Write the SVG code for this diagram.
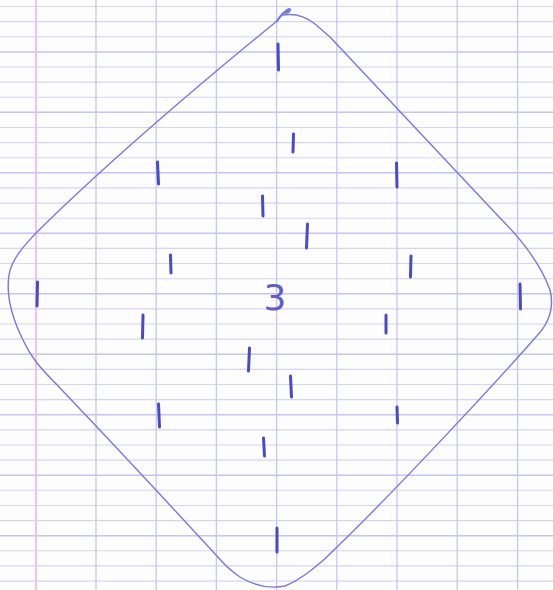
<svg xmlns="http://www.w3.org/2000/svg" width="553" height="590" viewBox="0 0 553 590">
  <style>
    .minor { stroke: #d6d4f3; stroke-width: 1.1; fill: none; }
    .major { stroke: #c6c4f1; stroke-width: 1.5; fill: none; }
    .vert { stroke: #c8c6f3; stroke-width: 1.3; fill: none; }
    .margin { stroke: #f5bce8; stroke-width: 1.8; fill: none; }
    .outline { stroke: #7a78dc; stroke-width: 1.4; fill: none; stroke-linejoin: round; stroke-linecap: round; }
    .tick { stroke: #4b4ac6; stroke-width: 3; stroke-linecap: round; fill: none; }
    .num { font-family: "DejaVu Sans", "Liberation Sans", sans-serif; font-size: 36px; fill: #5e5cd0; text-anchor: middle; }
  </style>
  <rect width="553" height="590" fill="#fdfdfe"/>
  <g id="paper">
    <path class="minor" d="M0 6.5H553M0 21.6H553M0 36.7H553M0 67H553M0 82.1H553M0 97.2H553M0 127.5H553M0 142.6H553M0 157.7H553M0 187.9H553M0 203.1H553M0 218.2H553M0 248.4H553M0 263.5H553M0 278.7H553M0 308.9H553M0 324H553M0 339.1H553M0 369.4H553M0 384.5H553M0 399.6H553M0 429.9H553M0 445H553M0 460.1H553M0 490.3H553M0 505.5H553M0 520.6H553M0 550.8H553M0 565.9H553M0 581.1H553"/>
    <path class="major" d="M0 51.9H553M0 112.3H553M0 172.8H553M0 233.3H553M0 293.8H553M0 354.3H553M0 414.7H553M0 475.2H553M0 535.7H553"/>
    <path class="vert" d="M96 0V590M156.2 0V590M216.4 0V590M276.6 0V590M336.8 0V590M397 0V590M457.2 0V590M517.6 0V590"/>
    <path class="margin" d="M36 0V590"/>
  </g>
  <g id="diamond">
    <path class="outline" d="M283 15 C295 13 305 16 315 24 L330 37 L500 218 C520 238 540 262 550 290 C555 310 548 325 535 338 C500 378 400 486 337 547 C320 565 300 580 285 586 C270 589 255 586 240 577 C225 567 218 557 216 555 C170 505 100 430 60 388 C45 372 33 362 23 340 C12 318 6 295 9 275 C12 258 25 245 36 233 C100 170 190 92 277 21"/>
    <path class="outline" style="stroke-width:2.2" d="M277 21 C281 15 285 11 289 9 C291 9 290 12 286 13"/>
  </g>
  <g id="marks">
    <path class="tick" d="M278 44L278.5 70"/>
    <path class="tick" d="M293.5 134L293 152"/>
    <path class="tick" d="M157.5 162L158.5 184"/>
    <path class="tick" d="M396.5 163L397 187"/>
    <path class="tick" d="M262.5 196L263 216"/>
    <path class="tick" d="M307.5 224L306.5 248"/>
    <path class="tick" d="M170.5 255L171 273"/>
    <path class="tick" d="M411 256L410.5 277"/>
    <path class="tick" d="M37.5 282L37 306"/>
    <path class="tick" d="M520 284L520.5 309"/>
    <path class="tick" d="M143 315L142.5 338"/>
    <path class="tick" d="M386 315L386 333"/>
    <path class="tick" d="M249.5 348L248.5 371"/>
    <path class="tick" d="M290.5 376L291.5 397"/>
    <path class="tick" d="M158.5 404L159.5 427"/>
    <path class="tick" d="M397 407L397.5 423"/>
    <path class="tick" d="M263.5 438L264.5 456"/>
    <path class="tick" d="M277 528L277 552"/>
  </g>
  <text class="num" x="275" y="310">3</text>
</svg>
